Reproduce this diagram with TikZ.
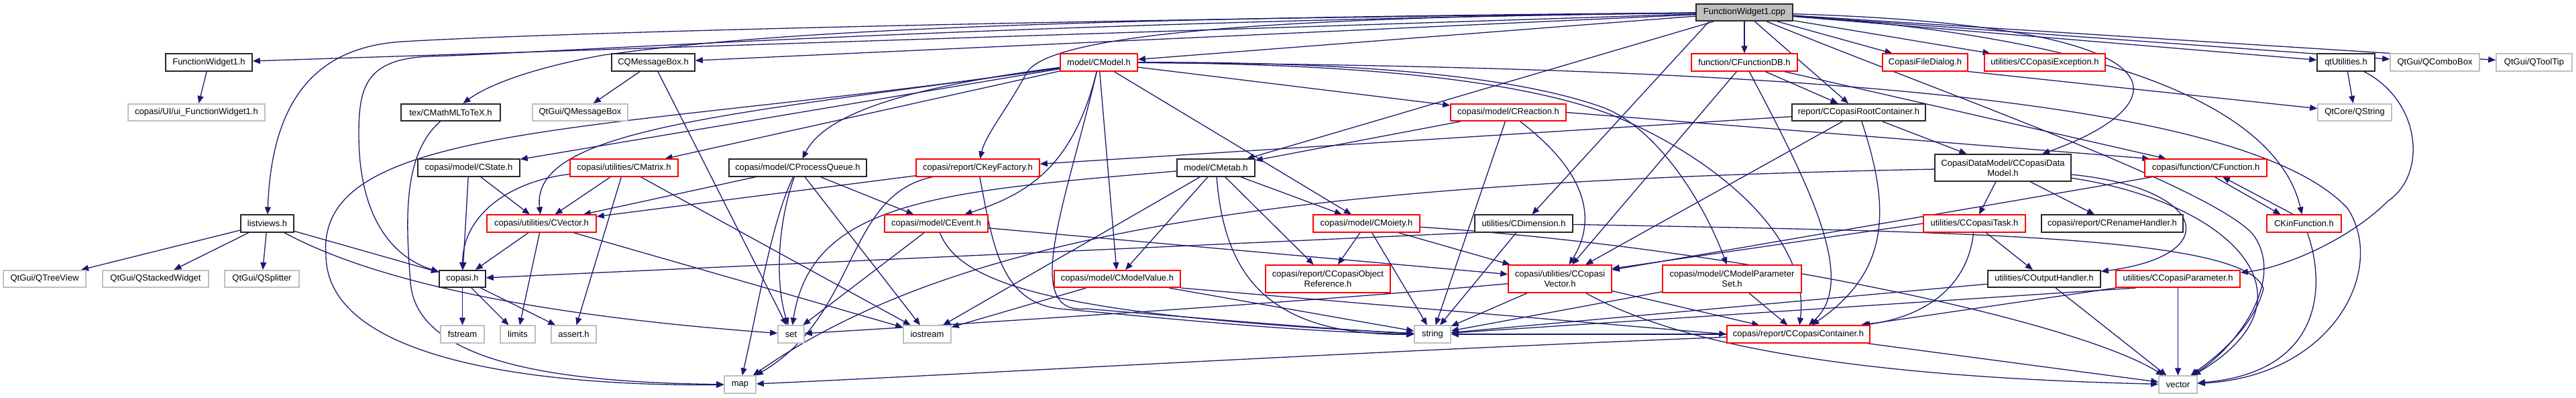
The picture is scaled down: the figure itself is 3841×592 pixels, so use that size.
\documentclass[tikz,border=0pt]{standalone}
\usepackage{fontspec}
\setmainfont{Liberation Sans}
\usetikzlibrary{arrows.meta}
\definecolor{cBlue}{HTML}{191970}
\definecolor{cGray}{HTML}{BFBFBF}
\definecolor{cRed}{HTML}{FF0000}
\pgfdeclarelayer{bg}
\pgfsetlayers{bg,main}
\begin{document}
\begin{tikzpicture}[x=1pt,y=-1pt,
  nbase/.style={rectangle, draw, fill=white, line width=1.6pt, inner sep=0pt, minimum height=25.5pt, font=\fontsize{13}{15}\selectfont, align=center, text=black},
  nblk/.style={nbase, draw=black!85},
  nred/.style={nbase, draw=cRed},
  ngry/.style={nbase, draw=cGray},
  nroot/.style={nbase, draw=black!85, fill=cGray},
  edg/.style={draw=cBlue, line width=1.3pt, -{Triangle[length=11pt,width=9pt]}}
]
\useasboundingbox (0,0) rectangle (3841,592);
% row 0
\node[nroot, minimum width=144pt] (root) at (2601,18.5) {FunctionWidget1.cpp};
% row 1
\node[nblk, minimum width=129pt] (fw1h) at (311.5,93) {FunctionWidget1.h};
\node[nblk, minimum width=124pt] (cqmb) at (974,93) {CQMessageBox.h};
\node[nred, minimum width=115pt] (cmodel) at (1638.5,93) {model/CModel.h};
\node[nred, minimum width=158pt] (cfdb) at (2601,93) {function/CFunctionDB.h};
\node[nred, minimum width=127pt] (cfd) at (2870.5,93) {CopasiFileDialog.h};
\node[nred, minimum width=180pt] (cexc) at (3049,93) {utilities/CCopasiException.h};
\node[nblk, minimum width=86pt] (qtu) at (3498,93) {qtUtilities.h};
\node[ngry, minimum width=133pt] (qcombo) at (3630.5,93) {QtGui/QComboBox};
\node[ngry, minimum width=113pt] (qtip) at (3778.5,93) {QtGui/QToolTip};
% row 2
\node[ngry, minimum width=204pt] (ui) at (293,167.5) {copasi/UI/ui\_FunctionWidget1.h};
\node[nblk, minimum width=148pt] (tex) at (672,167.5) {tex/CMathMLToTeX.h};
\node[ngry, minimum width=142pt] (qmb) at (865,167.5) {QtGui/QMessageBox};
\node[nred, minimum width=172pt] (creac) at (2249,167.5) {copasi/model/CReaction.h};
\node[nblk, minimum width=199pt] (rootc) at (2771.5,167.5) {report/CCopasiRootContainer.h};
\node[ngry, minimum width=110pt] (qstr) at (3511,167.5) {QtCore/QString};
% row 3
\node[nblk, minimum width=152pt] (cstate) at (699,250) {copasi/model/CState.h};
\node[nred, minimum width=161pt] (cmatrix) at (930.5,250) {copasi/utilities/CMatrix.h};
\node[nblk, minimum width=205pt] (cpq) at (1189.5,250) {copasi/model/CProcessQueue.h};
\node[nred, minimum width=184pt] (keyf) at (1458,250) {copasi/report/CKeyFactory.h};
\node[nblk, minimum width=116pt] (metab) at (1813,250) {model/CMetab.h};
\node[nblk, minimum width=203pt, minimum height=40pt] (dm) at (2986.5,250) {CopasiDataModel/CCopasiData\\Model.h};
\node[nred, minimum width=182pt] (cfunc) at (3289,250) {copasi/function/CFunction.h};
% row 4
\node[nblk, minimum width=79pt] (lv) at (398.5,333) {listviews.h};
\node[nred, minimum width=163pt] (cvector) at (807.5,333) {copasi/utilities/CVector.h};
\node[nred, minimum width=154pt] (cevent) at (1396,333) {copasi/model/CEvent.h};
\node[nred, minimum width=159pt] (cmoiety) at (2037.5,333) {copasi/model/CMoiety.h};
\node[nblk, minimum width=146pt] (cdim) at (2272,333) {utilities/CDimension.h};
\node[nred, minimum width=152pt] (ctask) at (2944,333) {utilities/CCopasiTask.h};
\node[nblk, minimum width=211pt] (cren) at (3149.5,333) {copasi/report/CRenameHandler.h};
\node[nred, minimum width=111pt] (kinf) at (3435.5,333) {CKinFunction.h};
% row 5
\node[ngry, minimum width=123pt] (qtree) at (66.5,415.5) {QtGui/QTreeView};
\node[ngry, minimum width=158pt] (qstack) at (232,415.5) {QtGui/QStackedWidget};
\node[ngry, minimum width=111pt] (qsplit) at (390.5,415.5) {QtGui/QSplitter};
\node[nblk, minimum width=69pt] (copasih) at (689.5,415.5) {copasi.h};
\node[nred, minimum width=188pt] (cmv) at (1666,415.5) {copasi/model/CModelValue.h};
\node[nred, minimum width=186pt, minimum height=41pt] (cobjref) at (1980,415.5) {copasi/report/CCopasiObject\\Reference.h};
\node[nred, minimum width=154pt, minimum height=41pt] (cvec2) at (2326,415.5) {copasi/utilities/CCopasi\\Vector.h};
\node[nred, minimum width=207pt, minimum height=41pt] (cmps) at (2582.5,415.5) {copasi/model/CModelParameter\\Set.h};
\node[nblk, minimum width=168pt] (cout) at (3048,415.5) {utilities/COutputHandler.h};
\node[nred, minimum width=185pt] (cpar) at (3247.5,415.5) {utilities/CCopasiParameter.h};
% row 6
\node[ngry, minimum width=65pt] (fstream) at (689.5,498) {fstream};
\node[ngry, minimum width=52pt] (limits) at (772,498) {limits};
\node[ngry, minimum width=67pt] (assert) at (855.5,498) {assert.h};
\node[ngry, minimum width=39pt] (set) at (1179.5,498) {set};
\node[ngry, minimum width=71pt] (iostream) at (1382.5,498) {iostream};
\node[ngry, minimum width=54pt] (string) at (2136,498) {string};
\node[nred, minimum width=213pt] (ccc) at (2681.5,498) {copasi/report/CCopasiContainer.h};
% row 7
\node[ngry, minimum width=47pt] (map) at (1103.5,573) {map};
\node[ngry, minimum width=57pt] (vector) at (3247.5,573) {vector};

\begin{pgfonlayer}{bg}
\fill[white] (0,0) rectangle (3841,592);
% root
\draw[edg] (root) -- (fw1h);
\draw[edg] (root) -- (cqmb);
\draw[edg] (root) -- (cmodel);
\draw[edg] (root) -- (cfdb);
\draw[edg] (root) -- (cfd);
\draw[edg] (root) -- (cexc);
\draw[edg] (root) -- (qtu);
\draw[edg] (root) -- (qcombo);
\draw[edg] (root) -- (qtip);
\draw[edg] (root) .. controls (1500,30) and (800,50) .. (600,62) .. controls (470,70) and (405,150) .. (lv);
\draw[edg] (root) .. controls (1400,28) and (1100,55) .. (900,82) .. controls (800,100) and (730,125) .. (tex);
\draw[edg] (root) .. controls (1500,32) and (800,80) .. (640,84) .. controls (545,88) and (535,130) .. (535,200) .. controls (535,330) and (590,385) .. (copasih);
\draw[edg] (root) -- (rootc);
\draw[edg] (root) .. controls (3300,40) and (3240,160) .. (dm);
\draw[edg] (root) .. controls (1900,25) and (1560,50) .. (1530,110) .. controls (1500,165) and (1470,200) .. (keyf);
\draw[edg] (root) -- (metab);
\draw[edg] ([xshift=20pt]root.south west) -- (cdim);
\draw[edg] (root) .. controls (3200,60) and (3400,180) .. (kinf);
\draw[edg] (root) .. controls (2900,140) and (3300,280) .. (3360,350) .. controls (3410,420) and (3330,520) .. (vector);
% simple ones
\draw[edg] (fw1h) -- (ui);
\draw[edg] (cqmb) -- (qmb);
\draw[edg] (cqmb) -- (set);
\draw[edg] (lv) -- (qtree);
\draw[edg] (lv) -- (qstack);
\draw[edg] (lv) -- (qsplit);
\draw[edg] (lv) -- (copasih);
\draw[edg] (lv) .. controls (560,420) and (800,470) .. (set);
\draw[edg] (tex) .. controls (600,230) and (605,330) .. (612,420) .. controls (620,545) and (850,570) .. (map);
\draw[edg] (qtu) -- (qstr);
\draw[edg] (qtu) .. controls (3610,150) and (3620,260) .. (3560,300) .. controls (3500,360) and (3400,400) .. (cpar);
\draw[edg] (cfd.south east) -- (qstr);
% CModel
\draw[edg] (cmodel) -- (cstate);
\draw[edg] (cmodel) -- (cmatrix);
\draw[edg] (cmodel) .. controls (1350,130) and (1230,170) .. (cpq);
\draw[edg] (cmodel) .. controls (1100,170) and (790,190) .. (cvector);
\draw[edg] (cmodel) .. controls (900,200) and (470,180) .. (486,380) .. controls (487,560) and (900,575) .. (map);
\draw[edg] (cmodel) .. controls (1600,250) and (1530,290) .. (cevent);
\draw[edg] (cmodel) .. controls (1590,300) and (1520,470) .. (1620,460) .. controls (1800,475) and (2000,492) .. (string);
\draw[edg] (cmodel) -- (cmv);
\draw[edg] (cmodel) -- (cmoiety);
\draw[edg] (cmodel) -- (creac);
\draw[edg] (cmodel) .. controls (2000,92) and (2250,110) .. (2390,160) .. controls (2470,190) and (2540,300) .. (cmps);
\draw[edg] (cmodel) .. controls (2000,95) and (2250,115) .. (2400,170) .. controls (2550,230) and (2700,350) .. (ccc);
\draw[edg] (cmodel) .. controls (2700,100) and (3350,150) .. (3500,310) .. controls (3560,400) and (3480,560) .. (vector);
% CFunctionDB
\draw[edg] (cfdb) -- (rootc);
\draw[edg] (cfdb) -- (cvec2);
\draw[edg] (cfdb) .. controls (2700,280) and (2770,420) .. (ccc);
\draw[edg] (cfdb) -- (cfunc);
% CReaction
\draw[edg] (creac) -- (metab);
\draw[edg] (creac.east) -- ([xshift=8pt]cfunc.north west);
\draw[edg] (creac) -- (string);
\draw[edg] (creac) .. controls (2370,260) and (2380,330) .. (cvec2);
% root container
\draw[edg] (rootc) -- (keyf);
\draw[edg] (rootc) -- (dm);
\draw[edg] (rootc) -- (cvec2);
\draw[edg] (rootc) .. controls (2815,300) and (2825,400) .. (ccc);
% CState, CMatrix, CProcessQueue
\draw[edg] (cstate) -- (copasih);
\draw[edg] (cstate) -- (cvector);
\draw[edg] (cmatrix) .. controls (760,270) and (690,320) .. (copasih);
\draw[edg] (cmatrix) -- (cvector);
\draw[edg] (cmatrix) -- (assert);
\draw[edg] (cmatrix) -- (iostream);
\draw[edg] (cpq) -- (cvector);
\draw[edg] (cpq) .. controls (1150,330) and (1130,460) .. (map);
\draw[edg] (cpq) .. controls (1160,330) and (1155,420) .. (set);
\draw[edg] (cpq) -- (cevent);
\draw[edg] (cpq) -- (iostream);
% CKeyFactory
\draw[edg] (keyf) -- (cvector);
\draw[edg] (keyf) .. controls (1260,290) and (1280,470) .. (map);
\draw[edg] (keyf) .. controls (1480,360) and (1490,450) .. (1580,460) .. controls (1800,480) and (1950,495) .. (string);
% CMetab
\draw[edg] (metab) .. controls (1400,285) and (1210,300) .. (set);
\draw[edg] (metab) -- (iostream);
\draw[edg] (metab) -- (cmv);
\draw[edg] (metab) .. controls (1825,400) and (1880,500) .. (string);
\draw[edg] (metab) -- (cobjref);
\draw[edg] (metab) -- (cmoiety);
% DataModel
\draw[edg] (dm) -- (ctask);
\draw[edg] (dm) -- (cren);
\draw[edg] (dm) .. controls (3290,280) and (3320,380) .. (cout);
\draw[edg] (dm) .. controls (3320,300) and (3470,440) .. (vector);
\draw[edg] (dm) .. controls (2000,270) and (1450,330) .. (map);
% CFunction / CKinFunction
\draw[edg] ([xshift=13pt]cfunc.south) -- ([xshift=-35pt]kinf.north);
\draw[edg] ([xshift=-16pt]kinf.north) -- ([xshift=25pt]cfunc.south);
\draw[edg] (cfunc) -- (cvec2);
\draw[edg] (kinf) .. controls (3470,430) and (3460,555) .. (vector);
% row 4
\draw[edg] (cvector) -- (copasih);
\draw[edg] (cvector) -- (limits);
\draw[edg] (cvector) -- (iostream);
\draw[edg] (cevent) -- (set);
\draw[edg] (cevent) .. controls (1430,420) and (1560,470) .. (string);
\draw[edg] (cevent) -- (cvec2);
\draw[edg] (cmoiety) -- (cobjref);
\draw[edg] (cmoiety) -- (string);
\draw[edg] (cmoiety) -- (cvec2);
\draw[edg] (cmoiety) .. controls (2600,370) and (3100,480) .. (vector);
\draw[edg] (cdim) -- (string);
\draw[edg] (cdim.south west) -- (copasih);
\draw[edg] (cdim) .. controls (2900,345) and (3350,350) .. (3375,430) .. controls (3360,490) and (3300,535) .. (vector);
\draw[edg] (ctask) -- (cout);
\draw[edg] (ctask) .. controls (2935,420) and (2880,470) .. (ccc);
\draw[edg] (ctask.west) -- ([yshift=-6pt]cvec2.north east);
% row 5
\draw[edg] (copasih) -- (fstream);
\draw[edg] (copasih) -- (limits);
\draw[edg] (copasih) -- (assert);
\draw[edg] (cmv) -- (iostream);
\draw[edg] (cmv) -- (string);
\draw[edg] (cmv.south east) -- (ccc.west);
\draw[edg] (cvec2) -- (string);
\draw[edg] (cvec2) .. controls (2480,500) and (2700,560) .. (vector);
\draw[edg] (cvec2) -- (ccc);
\draw[edg] (cvec2) .. controls (1950,450) and (1400,485) .. (set);
\draw[edg] (cmps) -- (ccc);
\draw[edg] (cmps) -- (string);
\draw[edg] (cout) -- (vector);
\draw[edg] (cout) -- (string);
\draw[edg] (cpar) -- (vector);
\draw[edg] (cpar) -- (ccc);
\draw[edg] ([xshift=30pt]cpar.south west) -- (string);
% row 6
\draw[edg] (ccc) -- (vector);
\draw[edg] (ccc) .. controls (2000,525) and (1400,560) .. (map);
\draw[edg] (ccc) -- (string);
\end{pgfonlayer}
\end{tikzpicture}
\end{document}
